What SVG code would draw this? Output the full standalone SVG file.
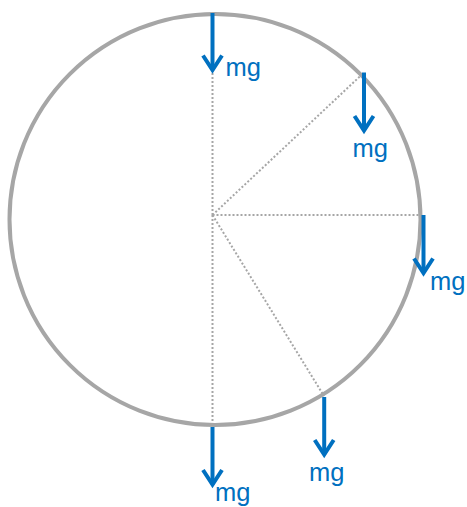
<svg xmlns="http://www.w3.org/2000/svg" width="467" height="507" viewBox="0 0 467 507">
<style>
.rim{fill:none;stroke:#A6A6A6;stroke-width:4}
.dot{fill:none;stroke:#A6A6A6;stroke-width:2;stroke-dasharray:2 2}
.force{fill:none;stroke:#0070C0;stroke-width:4;marker-end:url(#head)}
.lbl{font-family:"Liberation Sans",Arial,sans-serif;font-size:25.5px;fill:#0070C0}
</style>
<defs>
<marker id="head" markerUnits="userSpaceOnUse" markerWidth="40" markerHeight="40" viewBox="-20 -20 40 40" refX="0" refY="0" orient="auto" overflow="visible">
<path d="M-14.5,-9.5 L0,0 L-14.5,9.5" fill="none" stroke="#0070C0" stroke-width="4" stroke-linejoin="miter"/>
</marker>
</defs>
<g id="wheel">
<circle class="rim" cx="215" cy="219.5" r="205.5"/>
</g>
<g id="connectors">
<line class="dot" x1="212.5" y1="215" x2="212.5" y2="73"/>
<line class="dot" x1="212.5" y1="215" x2="363.5" y2="73"/>
<line class="dot" x1="212.5" y1="215" x2="421" y2="215"/>
<line class="dot" x1="212.5" y1="215" x2="212.5" y2="424"/>
<line class="dot" x1="212.5" y1="215" x2="324" y2="396"/>
<line class="force" x1="212.5" y1="13" x2="212.5" y2="70"/>
<line class="force" x1="364" y1="72.5" x2="364" y2="130.5"/>
<line class="force" x1="423.5" y1="215" x2="423.5" y2="273"/>
<line class="force" x1="212.5" y1="427" x2="212.5" y2="484.5"/>
<line class="force" x1="324.2" y1="397" x2="324.2" y2="454.5"/>
</g>
<g id="label-top"><text class="lbl" x="225.5" y="76">mg</text></g>
<g id="label-upper-right"><text class="lbl" x="352.5" y="157">mg</text></g>
<g id="label-right"><text class="lbl" x="430" y="290">mg</text></g>
<g id="label-bottom"><text class="lbl" x="215" y="501">mg</text></g>
<g id="label-lower-right"><text class="lbl" x="309" y="481">mg</text></g>
</svg>
